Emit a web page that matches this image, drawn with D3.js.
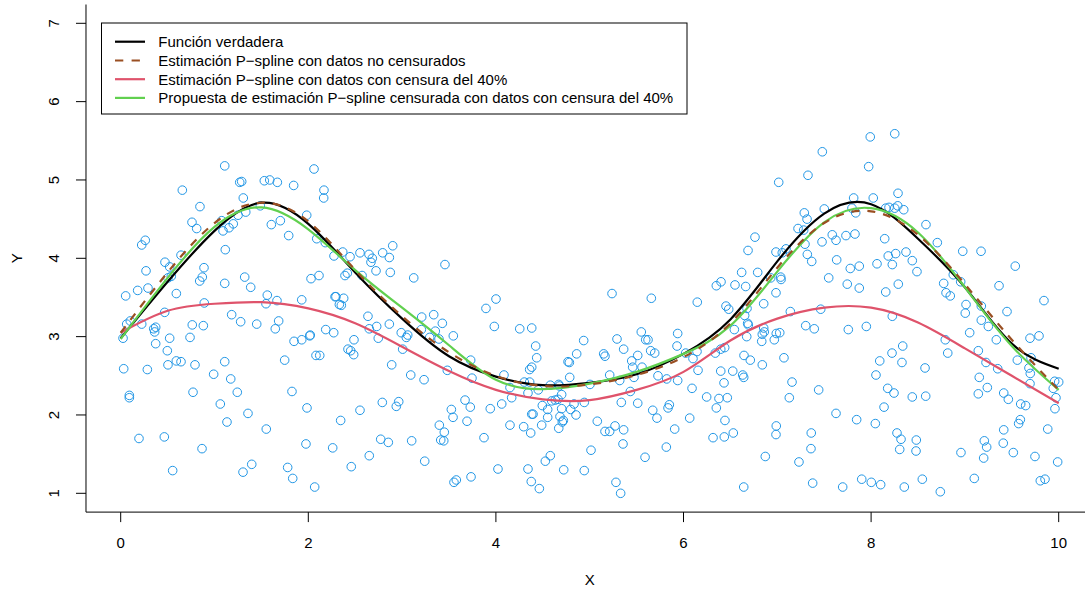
<!DOCTYPE html>
<html>
<head>
<meta charset="utf-8">
<script src="https://cdn.jsdelivr.net/npm/d3@7"></script>
<style>
  body { margin: 0; background: #fff; }
  svg { display: block; font-family: "Liberation Sans", Arial, sans-serif; }
</style>
</head>
<body>
<div id="chart"></div>
<script>
// Observed data (x, y)
let pointX = [
  1.109,2.061,1.269,1.290,1.531,1.589,1.670,1.844,2.167,2.164,0.657,1.307,0.845,1.488,1.333,1.251,1.983,0.760,1.077,1.200,
  1.702,1.606,0.810,1.155,1.091,1.791,2.090,2.181,0.262,0.224,1.115,0.643,2.274,0.472,0.522,0.888,0.270,0.539,0.504,0.870,
  0.842,1.322,2.029,2.114,1.109,1.386,0.291,0.181,0.053,0.593,1.563,1.666,1.549,1.930,2.285,0.891,0.469,1.183,1.279,1.450,
  1.684,0.763,0.881,0.064,0.102,0.224,0.373,0.352,0.362,2.186,2.271,1.648,2.021,2.015,1.930,1.848,0.025,0.522,0.739,0.373,
  0.497,2.082,2.122,1.748,0.593,0.643,0.504,0.792,1.109,0.032,0.284,0.991,1.173,0.771,1.243,1.826,0.092,0.092,1.062,1.357,
  1.986,1.133,1.552,0.195,0.465,0.867,1.975,2.260,1.397,1.304,1.780,1.834,0.554,2.068,
  2.367,2.445,2.551,2.647,2.682,2.668,2.793,2.864,2.900,3.457,2.416,2.391,2.573,2.722,2.874,3.124,2.295,2.377,2.331,2.352,
  3.894,4.001,2.636,3.209,3.337,3.429,2.864,2.729,2.650,3.205,3.354,2.991,3.060,3.045,3.546,3.393,3.294,2.746,3.983,4.254,
  4.382,2.487,2.423,2.452,2.484,3.006,4.424,4.435,3.731,2.889,3.482,4.769,4.783,4.861,4.382,4.360,3.092,3.234,3.745,4.086,
  4.303,4.360,4.150,4.342,4.452,4.580,4.670,4.676,4.787,4.168,4.595,4.633,4.662,4.701,4.833,4.495,4.552,4.701,4.797,4.854,
  2.789,2.964,2.938,2.551,3.671,3.727,3.525,3.940,4.062,4.382,4.396,4.552,4.683,4.719,4.708,4.670,2.345,3.543,3.692,3.397,
  3.450,3.412,3.444,4.150,4.296,4.371,4.488,3.873,2.772,2.853,3.102,2.650,2.458,3.241,4.580,4.527,4.022,4.342,4.723,3.553,
  3.578,3.735,4.377,4.463,
  6.762,7.295,7.320,7.367,7.477,6.688,6.986,7.053,7.093,6.620,6.791,7.036,7.040,6.930,6.400,6.350,6.549,6.663,6.986,5.238,
  5.657,6.147,6.855,6.453,6.482,6.677,6.652,7.139,7.463,6.684,6.691,6.542,6.855,6.861,6.840,7.026,6.989,6.968,7.303,7.394,
  6.674,6.834,5.550,5.938,5.291,5.597,5.622,4.936,5.362,5.650,5.693,5.931,6.397,6.439,6.339,6.144,6.023,5.149,5.163,5.512,
  6.101,6.645,6.712,7.071,5.448,5.558,5.458,6.840,6.155,6.397,6.525,5.213,5.003,5.320,5.472,5.433,5.728,5.821,5.938,6.631,
  6.642,6.432,6.091,6.247,6.378,6.350,6.467,7.157,7.441,7.128,5.337,5.512,4.942,5.672,5.717,5.849,5.835,6.066,6.442,5.081,
  5.163,5.213,5.270,5.362,5.906,6.315,6.435,6.531,6.989,6.986,7.362,5.355,5.817,5.014,5.590,6.872,7.359,7.231,4.942,5.280,
  5.330,6.642,7.377,7.480,7.327,7.015,7.501,7.288,7.317,7.221,7.281,
  7.991,8.252,7.974,8.287,7.814,8.023,7.796,7.836,8.156,8.191,8.252,8.284,8.348,8.585,7.586,7.626,7.732,7.828,8.145,8.706,
  8.977,9.172,8.372,8.262,8.183,8.439,7.633,8.063,8.226,7.778,7.874,9.537,8.489,7.548,8.876,8.955,8.774,8.799,8.844,7.746,
  7.874,8.290,8.156,9.364,9.012,9.004,9.175,9.449,9.843,8.226,9.175,9.250,9.051,7.757,7.949,8.791,9.335,9.694,9.790,8.337,
  8.223,8.817,9.143,8.092,8.329,9.225,9.559,9.705,9.350,9.683,9.697,9.694,8.575,8.052,9.153,9.957,10.000,9.942,8.177,8.244,
  8.439,8.582,9.239,9.143,9.414,9.463,9.971,9.595,9.648,9.960,8.138,7.626,7.846,8.045,9.591,9.573,9.883,9.414,8.276,8.319,
  8.482,8.305,8.479,9.207,9.232,9.409,8.958,9.516,9.200,9.747,9.989,7.697,7.900,8.002,8.102,8.354,8.546,8.738,9.100,9.804,
  9.854
];
let pointY = [
  5.18,5.14,4.97,4.98,4.99,5.00,4.97,4.93,4.87,4.77,4.87,4.77,4.66,4.67,4.59,4.55,4.55,4.46,4.48,4.44,
  4.48,4.43,4.38,4.39,4.35,4.29,4.25,4.20,4.23,4.17,4.11,4.04,4.03,3.95,3.89,3.88,3.84,3.77,3.75,3.76,
  3.71,3.76,3.74,3.78,3.68,3.63,3.62,3.59,3.52,3.55,3.53,3.46,3.42,3.47,3.51,3.43,3.31,3.28,3.19,3.16,
  3.20,3.15,3.14,3.16,3.20,3.16,3.12,3.10,3.06,3.09,3.05,3.10,3.02,3.01,2.96,2.94,2.98,2.98,2.99,2.91,
  2.82,2.76,2.76,2.70,2.69,2.68,2.64,2.64,2.68,2.59,2.58,2.52,2.46,2.29,2.29,2.30,2.25,2.22,2.14,2.02,
  2.09,1.91,1.82,1.70,1.72,1.57,1.63,1.58,1.37,1.27,1.33,1.19,1.29,1.08,
  4.08,4.02,4.07,4.05,4.00,3.95,4.07,4.01,4.16,3.92,3.81,3.78,3.78,3.84,3.82,3.75,3.51,3.49,3.41,3.40,
  3.36,3.48,3.26,3.25,3.28,3.17,3.16,3.13,3.10,3.09,3.07,3.05,3.02,2.99,3.01,2.97,2.99,2.98,3.13,3.10,
  3.11,2.96,2.84,2.82,2.77,2.84,2.88,2.73,2.70,2.64,2.57,2.68,2.67,2.78,2.61,2.58,2.51,2.45,2.47,2.51,
  2.42,2.42,2.35,2.28,2.32,2.38,2.39,2.37,2.48,2.22,2.18,2.19,2.20,2.26,2.14,2.12,2.07,2.08,2.07,2.00,
  2.16,2.17,2.11,2.06,2.19,2.10,2.07,2.08,2.14,2.01,2.01,1.97,1.98,1.93,1.91,1.83,1.93,1.97,1.92,1.87,
  1.78,1.68,1.67,1.87,1.85,1.77,1.87,1.71,1.69,1.65,1.67,1.48,1.34,1.41,1.48,1.41,1.31,1.31,1.30,1.14,
  1.17,1.21,1.15,1.06,
  4.27,4.18,4.05,3.96,4.21,4.10,4.08,4.07,4.12,3.82,3.82,3.76,3.73,3.75,3.70,3.65,3.66,3.64,3.56,3.55,
  3.49,3.44,3.42,3.39,3.35,3.36,3.27,3.32,3.35,3.17,3.15,3.09,3.11,3.06,3.03,3.05,3.04,2.96,3.14,3.10,
  3.00,2.94,3.06,3.04,2.97,2.96,2.96,2.95,2.84,2.82,2.79,2.88,2.84,2.86,2.79,2.81,2.79,2.78,2.75,2.76,
  2.72,2.76,2.70,2.73,2.69,2.61,2.61,2.64,2.57,2.56,2.56,2.51,2.39,2.44,2.48,2.30,2.50,2.46,2.44,2.51,
  2.48,2.41,2.34,2.23,2.21,2.09,2.22,2.42,2.32,2.22,2.16,2.15,2.16,2.06,1.96,2.13,2.09,1.96,1.93,1.92,
  1.79,1.79,1.86,1.81,1.82,1.71,1.72,1.77,1.86,1.75,1.77,1.63,1.59,1.55,1.46,1.47,1.57,1.40,1.29,1.14,
  1.00,1.08,1.13,5.36,5.06,4.97,4.63,4.58,4.50,4.38,4.36,
  5.55,5.59,5.17,4.83,4.77,4.77,4.64,4.58,4.64,4.65,4.64,4.67,4.62,4.43,4.30,4.23,4.29,4.31,4.25,4.20,
  4.09,4.09,4.08,4.06,4.03,3.97,3.98,3.93,3.92,3.87,3.90,3.90,3.83,3.75,3.79,3.70,3.68,3.56,3.52,3.67,
  3.62,3.67,3.57,3.65,3.41,3.30,3.39,3.32,3.46,3.26,3.21,3.13,3.05,3.09,3.13,2.96,2.96,2.98,3.01,2.88,
  2.79,2.79,2.82,2.69,2.67,2.67,2.70,2.73,2.59,2.60,2.53,2.40,2.60,2.51,2.48,2.43,2.42,2.34,2.34,2.28,
  2.23,2.24,2.35,2.27,2.28,2.20,2.22,2.14,2.12,2.08,2.10,2.02,1.94,1.89,1.94,1.89,1.82,1.81,1.77,1.69,
  1.68,1.56,1.54,1.67,1.59,1.64,1.52,1.52,1.45,1.47,1.40,1.08,1.18,1.14,1.11,1.08,1.18,1.02,1.19,1.16,
  1.18
];

// Curves evaluated on a grid
let gridX = [0,0.5,1,1.5,2,2.5,3,3.5,4,4.5,5,5.5,6,6.5,7,7.5,8,8.5,9,9.5,10];
let trueY     = [2.98,3.70,4.35,4.71,4.44,3.82,3.23,2.75,2.49,2.38,2.41,2.52,2.78,3.22,3.96,4.57,4.69,4.25,3.63,2.91,2.59];
let uncensY   = [3.05,3.82,4.45,4.71,4.47,3.85,3.26,2.80,2.50,2.37,2.39,2.51,2.74,3.17,3.88,4.45,4.60,4.30,3.67,2.96,2.32];
let naiveY    = [3.05,3.33,3.42,3.44,3.36,3.17,2.87,2.56,2.32,2.20,2.19,2.32,2.55,2.95,3.23,3.37,3.37,3.18,2.85,2.50,2.15];
let proposalY = [2.97,3.75,4.40,4.65,4.37,3.85,3.37,2.89,2.45,2.33,2.40,2.55,2.78,3.14,3.83,4.46,4.64,4.33,3.63,2.88,2.32];

let xTicks = [0,2,4,6,8,10];
let yTicks = [1,2,3,4,5,6,7];
let legendLabels = [
  "Función verdadera",
  "Estimación P\u2212spline con datos no censurados",
  "Estimación P\u2212spline con datos con censura del 40%",
  "Propuesta de estimación P\u2212spline censurada con datos con censura del 40%"
];

let width = 1085, height = 595;
let fontSize = 15;

let xScale = d3.scaleLinear().domain([0, 10]).range([120.7, 1058.7]);
let yScale = d3.scaleLinear().domain([1, 7]).range([493.3, 23.3]);

let svg = d3.select("#chart").append("svg")
    .attr("width", width)
    .attr("height", height);

svg.append("rect").attr("width", width).attr("height", height).attr("fill", "#fff");

// points
let points = d3.range(pointX.length).map(i => ({x: pointX[i], y: pointY[i]}));
svg.selectAll(".dot")
    .data(points)
  .enter().append("circle")
    .attr("class", "dot")
    .attr("cx", d => xScale(d.x))
    .attr("cy", d => yScale(d.y))
    .attr("r", 4.3)
    .attr("fill", "none")
    .attr("stroke", "#2297E6")
    .attr("stroke-width", 1);

let line = d3.line()
    .x(d => xScale(d.x))
    .y(d => yScale(d.y))
    .curve(d3.curveNatural);

let series = [
  {ys: trueY, color: "#000000", dash: null},
  {ys: naiveY, color: "#DF536B", dash: null},
  {ys: proposalY, color: "#61D04F", dash: null},
  {ys: uncensY, color: "#9A4F22", dash: "8,8"}
];
series.forEach(s => {
  svg.append("path")
      .datum(gridX.map((x, i) => ({x: x, y: s.ys[i]})))
      .attr("fill", "none")
      .attr("stroke", s.color)
      .attr("stroke-width", 2.2)
      .attr("stroke-dasharray", s.dash)
      .attr("d", line);
});

// box (left + bottom, the rest is outside the picture)
let x0 = xScale(-0.37), y0 = yScale(0.76), yTop = yScale(7.24);
svg.append("path")
    .attr("d", `M${x0},${yTop}V${y0}H${width}`)
    .attr("fill", "none")
    .attr("stroke", "#000")
    .attr("stroke-width", 1);

// x axis
let xg = svg.append("g").attr("font-size", fontSize);
xTicks.forEach(t => {
  xg.append("line")
      .attr("x1", xScale(t)).attr("x2", xScale(t))
      .attr("y1", y0).attr("y2", y0 + 10)
      .attr("stroke", "#000");
  xg.append("text")
      .attr("x", xScale(t)).attr("y", 548)
      .attr("text-anchor", "middle")
      .text(t);
});

// y axis
let yg = svg.append("g").attr("font-size", fontSize);
yTicks.forEach(t => {
  yg.append("line")
      .attr("x1", x0 - 10).attr("x2", x0)
      .attr("y1", yScale(t)).attr("y2", yScale(t))
      .attr("stroke", "#000");
  yg.append("text")
      .attr("transform", `translate(58.5, ${yScale(t)}) rotate(-90)`)
      .attr("text-anchor", "middle")
      .text(t);
});

svg.append("text")
    .attr("x", xScale(5)).attr("y", 585)
    .attr("text-anchor", "middle")
    .attr("font-size", fontSize)
    .text("X");
svg.append("text")
    .attr("transform", `translate(22, ${yScale(4)}) rotate(-90)`)
    .attr("text-anchor", "middle")
    .attr("font-size", fontSize)
    .text("Y");

// legend
let legend = svg.append("g").attr("font-size", fontSize);
legend.append("rect")
    .attr("x", 101.5).attr("y", 23)
    .attr("width", 585.5).attr("height", 91)
    .attr("fill", "#fff")
    .attr("stroke", "#000");
let legendColors = ["#000000", "#9A4F22", "#DF536B", "#61D04F"];
let rowY = [41.7, 60.5, 79.2, 97.9];
legendLabels.forEach((lab, i) => {
  legend.append("line")
      .attr("x1", 115).attr("x2", 145)
      .attr("y1", rowY[i]).attr("y2", rowY[i])
      .attr("stroke", legendColors[i])
      .attr("stroke-width", 2.2)
      .attr("stroke-dasharray", i == 1 ? "8.3,8.3" : null);
  legend.append("text")
      .attr("x", 158.3).attr("y", rowY[i] + 5.3)
      .text(lab);
});
</script>
</body>
</html>
